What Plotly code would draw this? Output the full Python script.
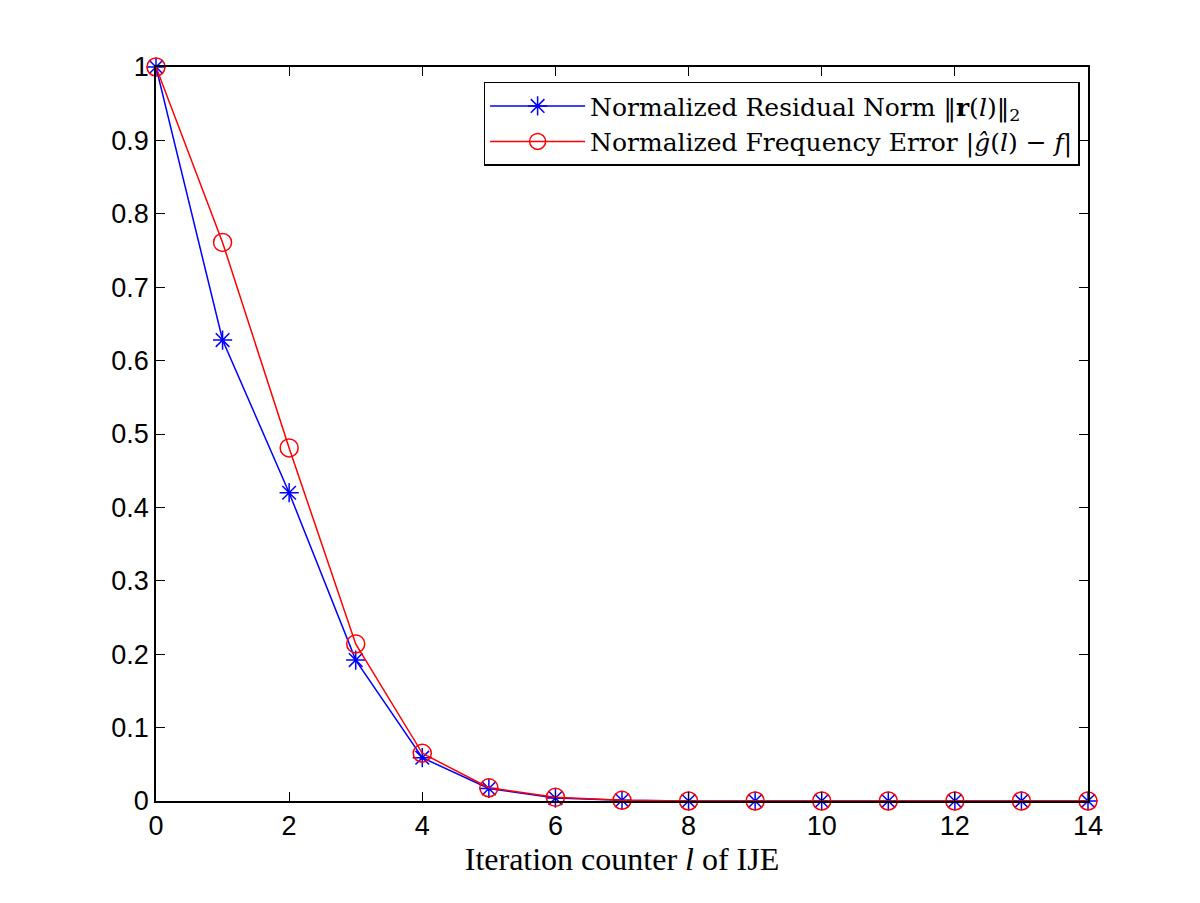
import plotly.graph_objects as go

iterations = list(range(15))
residual_norm = [1.0, 0.628, 0.42, 0.192, 0.059, 0.017, 0.004, 0.001, 0.0, 0.0, 0.0, 0.0, 0.0, 0.0, 0.0]
freq_error = [1.0, 0.761, 0.481, 0.214, 0.065, 0.018, 0.005, 0.001, 0.0, 0.0, 0.0, 0.0, 0.0, 0.0, 0.0]
x_ticks = [0, 2, 4, 6, 8, 10, 12, 14]
y_ticks = [0, 0.1, 0.2, 0.3, 0.4, 0.5, 0.6, 0.7, 0.8, 0.9, 1]
y_tick_text = ["0", "0.1", "0.2", "0.3", "0.4", "0.5", "0.6", "0.7", "0.8", "0.9", "1"]

fig = go.Figure()
fig.add_trace(go.Scatter(
    x=iterations, y=residual_norm, mode="lines+markers",
    name="Normalized Residual Norm ‖<b>r</b>(<i>l</i>)‖<sub>2</sub>",
    line=dict(color="#0000ff", width=1.5),
    marker=dict(symbol="asterisk-open", size=16, color="#0000ff", line=dict(color="#0000ff", width=1.5)),
    cliponaxis=False,
))
fig.add_trace(go.Scatter(
    x=iterations, y=freq_error, mode="lines+markers",
    name="Normalized Frequency Error |<i>g\u0302</i>(<i>l</i>) \u2212 <i>f</i>|",
    line=dict(color="#ff0000", width=1.5),
    marker=dict(symbol="circle-open", size=18, color="#ff0000", line=dict(color="#ff0000", width=1.5)),
    cliponaxis=False,
))

axis_common = dict(
    showgrid=False, zeroline=False, showline=True, linecolor="black", linewidth=1.5,
    mirror="ticks", ticks="inside", ticklen=9, tickwidth=1.2, tickcolor="black",
    tickfont=dict(family="Liberation Sans, Arial, sans-serif", size=27, color="black"),
)

fig.update_layout(
    width=1200, height=903,
    paper_bgcolor="white", plot_bgcolor="white",
    margin=dict(l=148, r=120, t=59, b=110),
    xaxis=dict(range=[0, 14], tickvals=x_ticks, ticktext=[str(v) for v in x_ticks],
               title=dict(text="Iteration counter <i>l</i> of IJE",
                          font=dict(family="Liberation Serif, DejaVu Serif, serif", size=32, color="black"),
                          standoff=7),
               **axis_common),
    yaxis=dict(range=[0, 1], tickvals=y_ticks, ticktext=y_tick_text, **axis_common),
    legend=dict(x=0.991, y=0.98, xanchor="right", yanchor="top",
                bgcolor="white", bordercolor="black", borderwidth=1.5,
                font=dict(family="DejaVu Serif, Liberation Serif, serif", size=25, color="black"),
                tracegroupgap=0, itemwidth=95),
    showlegend=True,
)

fig.write_html("out.html")
